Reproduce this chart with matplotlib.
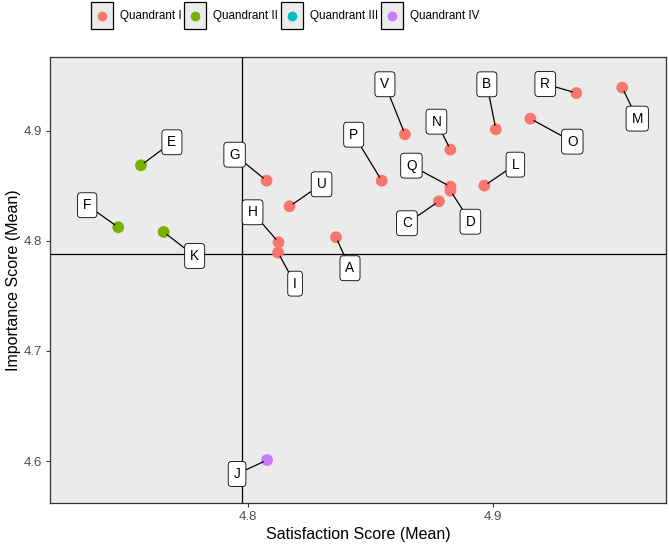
import matplotlib
matplotlib.use('Agg')
import matplotlib.pyplot as plt
from matplotlib.patches import Rectangle
from matplotlib.lines import Line2D

plt.rcParams['font.family'] = ['Liberation Sans', 'DejaVu Sans']

# data
labels = ['A', 'B', 'C', 'D', 'E', 'F', 'G', 'H', 'I', 'J', 'K',
          'L', 'M', 'N', 'O', 'P', 'Q', 'R', 'U', 'V']
satisfaction = [4.8359, 4.9013, 4.8780, 4.8827, 4.7561, 4.7468, 4.8075, 4.8124, 4.8122, 4.8077, 4.7654,
                4.8966, 4.9530, 4.8827, 4.9154, 4.8546, 4.8827, 4.9342, 4.8169, 4.8641]
importance = [4.8034, 4.9015, 4.8361, 4.8457, 4.8688, 4.8125, 4.8548, 4.7988, 4.7894, 4.6009, 4.8082,
              4.8503, 4.9394, 4.8830, 4.9112, 4.8548, 4.8494, 4.9345, 4.8315, 4.8970]
sat_mean = 4.7975
imp_mean = 4.788

quadrant_names = ['Quandrant I', 'Quandrant II', 'Quandrant III', 'Quandrant IV']
quadrant_colors = ['#F8766D', '#7CAE00', '#00BFC4', '#C77CFF']

# label offsets (pixels, from point) to mimic the repelled labels
label_offsets = {
    'A': (14, -31), 'B': (-9, 45), 'C': (-32, -22), 'D': (20, -31), 'E': (31, 23),
    'F': (-31, 22), 'G': (-32, 26), 'H': (-26, 30), 'I': (17, -31), 'J': (-30, -14),
    'K': (31, -24), 'L': (31, 21), 'M': (15, -31), 'N': (-14, 28), 'O': (42, -23),
    'P': (-28, 46), 'Q': (-39, 21), 'R': (-31, 9), 'U': (32, 22), 'V': (-20, 50),
}


def quadrant(x, y):
    if x >= sat_mean and y >= imp_mean:
        return 0
    if x < sat_mean and y >= imp_mean:
        return 1
    if x < sat_mean and y < imp_mean:
        return 2
    return 3


W, H = 669, 546
fig = plt.figure(figsize=(W / 100, H / 100), dpi=100)
ax = fig.add_axes([50 / W, 1 - 502.7 / H, (666 - 50) / W, (502.7 - 56.7) / H])
ax.set_facecolor('#EBEBEB')

ax.axvline(sat_mean, color='black', lw=0.9, zorder=1)
ax.axhline(imp_mean, color='black', lw=0.9, zorder=1)

colors = [quadrant_colors[quadrant(x, y)] for x, y in zip(satisfaction, importance)]
ax.scatter(satisfaction, importance, s=72, c=colors, edgecolors='none', zorder=3)

for lab, x, y in zip(labels, satisfaction, importance):
    dx, dy = label_offsets[lab]
    ax.annotate(lab, xy=(x, y), xytext=(dx, dy), textcoords='offset pixels',
                ha='center', va='center', fontsize=9.8, zorder=4,
                bbox=dict(boxstyle='round,pad=0.4,rounding_size=0.25', fc='white', ec='black', lw=0.6),
                arrowprops=dict(arrowstyle='-', color='black', lw=0.9, shrinkA=0, shrinkB=3))

ax.set_xlim(4.7189, 4.9709)
ax.set_ylim(4.5621, 4.9675)
ax.set_xticks([4.8, 4.9])
ax.set_yticks([4.6, 4.7, 4.8, 4.9])
ax.tick_params(colors='#333333', labelcolor='#4D4D4D', labelsize=9.5, length=3, width=0.8, pad=3)
for sp in ax.spines.values():
    sp.set_color('#333333')
    sp.set_linewidth(0.9)

ax.set_xlabel('Satisfaction Score (Mean)', fontsize=11.5, labelpad=3)
ax.set_ylabel('Importance Score (Mean)', fontsize=11.5, labelpad=2)

# legend drawn by hand: grey keys with black frame
key_left = [91, 184, 281, 381]
for i, (name, col) in enumerate(zip(quadrant_names, quadrant_colors)):
    x0 = key_left[i]
    fig.patches.append(Rectangle((x0 / W, 1 - 29 / H), 22 / W, 27 / H, transform=fig.transFigure,
                                 fc='#EBEBEB', ec='black', lw=0.9))
    fig.lines.append(Line2D([(x0 + 11) / W], [1 - 15.5 / H], transform=fig.transFigure,
                            marker='o', ms=7, color=col, mec='none', ls='none'))
    fig.text((x0 + 29) / W, 1 - 15.5 / H, name, fontsize=8.4, va='center', ha='left')

plt.savefig('out.png', dpi=100)
